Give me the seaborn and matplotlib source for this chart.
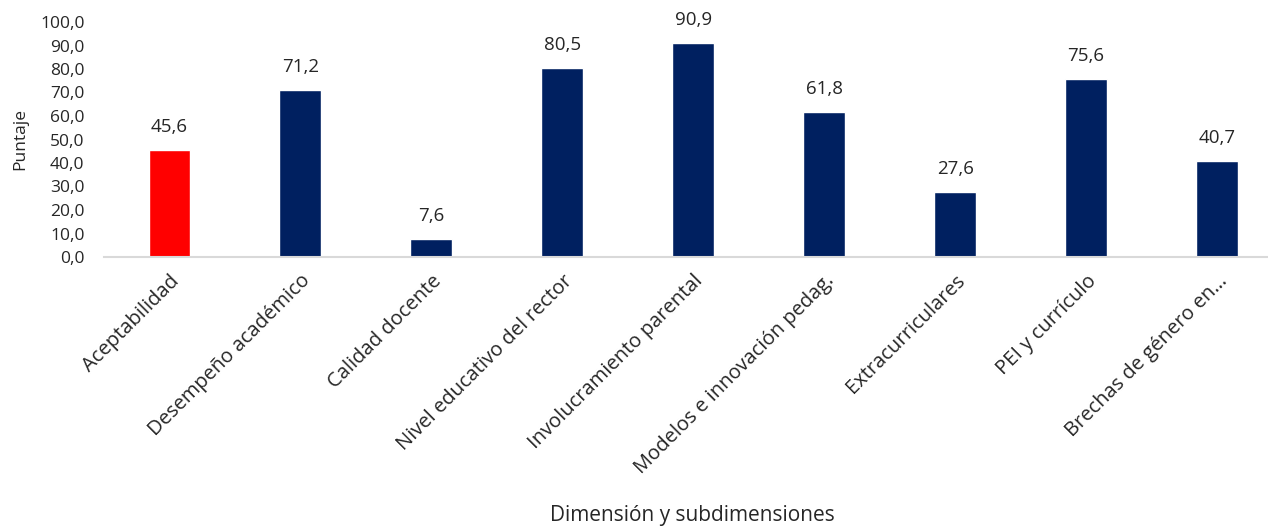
import numpy as np
import pandas as pd
import matplotlib
matplotlib.use("Agg")
import matplotlib.pyplot as plt
import seaborn as sns

categories = ["Aceptabilidad", "Desempeño académico", "Calidad docente",
              "Nivel educativo del rector", "Involucramiento parental",
              "Modelos e innovación pedag.", "Extracurriculares",
              "PEI y currículo", "Brechas de género en…"]
values = [45.6, 71.2, 7.6, 80.5, 90.9, 61.8, 27.6, 75.6, 40.7]
bar_colors = ["#FF0000"] + ["#002060"] * 8

sns.set_style("white")
plt.rcParams['font.family'] = ['Open Sans', 'DejaVu Sans']

df = pd.DataFrame({'cat': categories, 'val': values})

fig = plt.figure(figsize=(12.68, 5.27), dpi=100)
ax = fig.add_axes([104 / 1268, (527 - 257) / 527, 1178.5 / 1268, 235 / 527])

sns.barplot(data=df, x='cat', y='val', hue='cat', palette=bar_colors,
            legend=False, width=0.32, ax=ax, saturation=1)

for i, v in enumerate(values):
    ax.text(i, v + 6, f"{v:.1f}".replace('.', ','), ha='center', va='bottom',
            fontsize=13.5, color='#262626')

ax.set_ylim(0, 100)
ax.set_xlim(-0.5, 8.5)
ax.set_yticks(np.arange(0, 101, 10))
ax.set_yticklabels([f"{t:.1f}".replace('.', ',') for t in np.arange(0, 101, 10)],
                   fontsize=12.5, color='#262626')
ax.set_xticks(range(len(categories)))
ax.set_xticklabels(categories, rotation=45, ha='right', rotation_mode='anchor',
                   fontsize=14.5, color='#262626')
ax.tick_params(axis='both', length=0)
ax.tick_params(axis='y', pad=14)
ax.tick_params(axis='x', pad=10)

for s in ['top', 'right', 'left']:
    ax.spines[s].set_visible(False)
ax.spines['bottom'].set_color('#D9D9D9')
ax.spines['bottom'].set_linewidth(1.5)

ax.set_ylabel('Puntaje', fontsize=12.5, color='#262626')
ax.yaxis.set_label_coords(-(104 - 28) / 1178.5, 0.5)
ax.set_xlabel('Dimensión y subdimensiones', fontsize=15, color='#262626')
ax.xaxis.label.set_va('center')
ax.xaxis.set_label_coords((692 - 104) / 1178.5, -(516 - 257) / 235)

fig.savefig('out.png', dpi=100)
